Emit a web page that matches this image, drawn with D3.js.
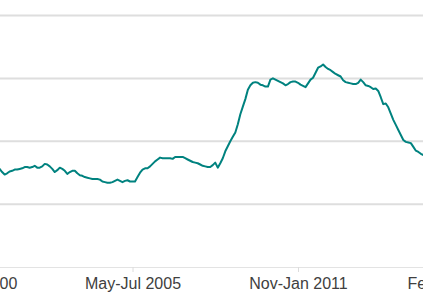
<!DOCTYPE html>
<html>
<head>
<meta charset="utf-8">
<script src="https://cdn.jsdelivr.net/npm/d3@7"></script>
<style>
  html, body { margin: 0; padding: 0; background: #ffffff; overflow: hidden; }
  svg { display: block; font-family: "Liberation Sans", Arial, sans-serif; }
</style>
</head>
<body>
<div id="chart"></div>
<script>
// ---- Data (rolling three-month periods, labelled by the period's final month) ----
const firstPeriodEnd = "2001-01"; // Nov-Jan 2001
const values = [
  5.57, 5.56, 5.51, 5.47, 5.49, 5.52, 5.53, 5.55, 5.55, 5.56,
  5.57, 5.59, 5.59, 5.58, 5.59, 5.61, 5.58, 5.58, 5.60, 5.64,
  5.63, 5.60, 5.56, 5.51, 5.54, 5.58, 5.56, 5.53, 5.48, 5.51,
  5.53, 5.53, 5.49, 5.46, 5.45, 5.43, 5.42, 5.41, 5.40, 5.40,
  5.40, 5.39, 5.36, 5.35, 5.34, 5.34, 5.35, 5.37, 5.39, 5.37,
  5.35, 5.37, 5.38, 5.36, 5.36, 5.36, 5.43, 5.50, 5.55, 5.57,
  5.57, 5.60, 5.64, 5.68, 5.71, 5.74, 5.73, 5.73, 5.73, 5.73,
  5.72, 5.75, 5.75, 5.75, 5.75, 5.73, 5.71, 5.69, 5.67, 5.66,
  5.65, 5.63, 5.61, 5.60, 5.59, 5.59, 5.62, 5.66, 5.58, 5.65,
  5.73, 5.84, 5.92, 6.00, 6.07, 6.14, 6.27, 6.43, 6.55, 6.67,
  6.82, 6.89, 6.93, 6.94, 6.93, 6.90, 6.89, 6.87, 6.87, 6.98,
  7.00, 6.98, 6.96, 6.94, 6.92, 6.89, 6.91, 6.94, 6.95, 6.95,
  6.93, 6.90, 6.88, 6.86, 6.92, 6.98, 7.01, 7.09, 7.17, 7.19,
  7.22, 7.18, 7.15, 7.13, 7.10, 7.07, 7.05, 7.03, 6.97, 6.94,
  6.93, 6.92, 6.91, 6.91, 6.93, 6.98, 6.94, 6.89, 6.88, 6.86,
  6.83, 6.84, 6.80, 6.70, 6.59, 6.60, 6.54, 6.44, 6.34, 6.26,
  6.18, 6.10, 6.02, 5.99, 5.98, 5.97, 5.91, 5.85, 5.83, 5.80,
  5.78, 5.76
];
const tickLabels = ["Nov-Jan 2000", "May-Jul 2005", "Nov-Jan 2011", "Feb-Apr 2016"];
const yTicks = [4, 5, 6, 7, 8];

// ---- Helpers ----
const monthNames = ["Jan","Feb","Mar","Apr","May","Jun","Jul","Aug","Sep","Oct","Nov","Dec"];
function monthIndexFromISO(s) { const [y, m] = s.split("-").map(Number); return y * 12 + (m - 1); }
function monthIndexFromLabel(lbl) {
  // "Nov-Jan 2000" -> end month Jan 2000
  const parts = lbl.split(" ");
  const endMonth = parts[0].split("-")[1];
  return Number(parts[1]) * 12 + monthNames.indexOf(endMonth);
}
const start = monthIndexFromISO(firstPeriodEnd);
const data = values.map((v, i) => ({ t: start + i, v }));

// ---- Layout ----
const W = 423, H = 296;
const plotLeft = -2.9, plotRight = 425.9, plotTop = 15.5, plotBottom = 267;

const svg = d3.select("#chart").append("svg")
  .attr("width", W).attr("height", H);

const x = d3.scaleLinear()
  .domain([data[0].t, data[data.length - 1].t])
  .range([plotLeft, plotRight]);
const y = d3.scaleLinear()
  .domain([4, 8])
  .range([plotBottom, plotTop]);

// gridlines
svg.append("g")
  .selectAll("line")
  .data(yTicks.filter(d => d > 4))
  .join("line")
  .attr("x1", 0).attr("x2", W)
  .attr("y1", d => y(d)).attr("y2", d => y(d))
  .attr("stroke", "#dedede")
  .attr("stroke-width", 2);

// x axis
const xAxis = d3.axisBottom(x)
  .tickValues(tickLabels.map(monthIndexFromLabel))
  .tickFormat((d, i) => tickLabels[i])
  .tickSize(5)
  .tickPadding(6);

const gx = svg.append("g")
  .attr("transform", `translate(0,${plotBottom})`)
  .call(xAxis);
gx.select(".domain").remove();
gx.insert("line", ":first-child")
  .attr("x1", 0).attr("x2", W).attr("y1", 0.5).attr("y2", 0.5)
  .attr("stroke", "#e3e3e3").attr("stroke-width", 1);
gx.selectAll(".tick line").attr("stroke", "#dcdcdc");
gx.selectAll(".tick text")
  .attr("fill", "#404040")
  .style("font-size", "16px")
  .style("font-family", "'Liberation Sans', Arial, sans-serif");

// line
svg.append("path")
  .datum(data)
  .attr("fill", "none")
  .attr("stroke", "#00827f")
  .attr("stroke-width", 2)
  .attr("stroke-linejoin", "round")
  .attr("d", d3.line().x(d => x(d.t)).y(d => y(d.v)));
</script>
</body>
</html>
